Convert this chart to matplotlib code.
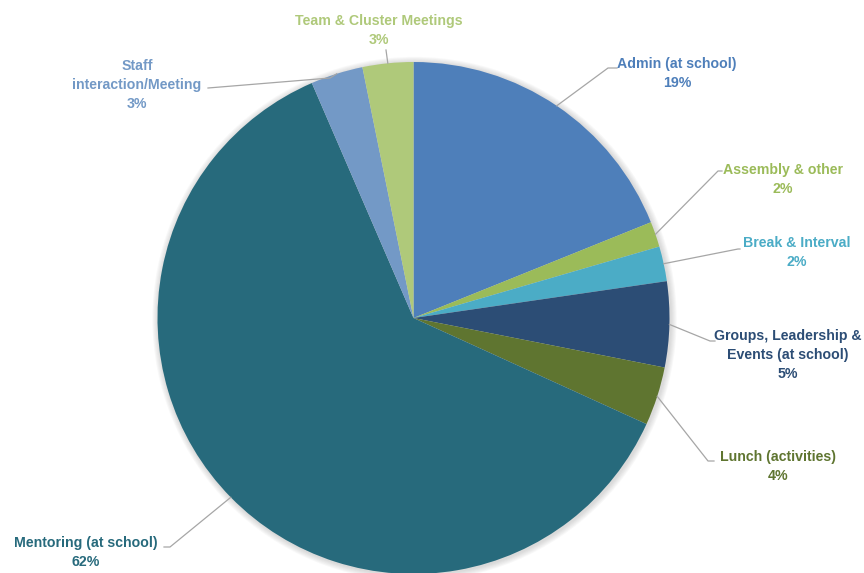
import matplotlib
matplotlib.use("Agg")
import matplotlib.pyplot as plt
import numpy as np
from matplotlib.patches import Circle

# Dane (w %)
categories = ["Admin (at school)", "Assembly & other", "Break & Interval",
              "Groups, Leadership &\nEvents (at school)", "Lunch (activities)",
              "Mentoring (at school)", "Staff\ninteraction/Meeting",
              "Team & Cluster Meetings"]
values = [18.9, 1.6, 2.2, 5.4, 3.7, 61.7, 3.3, 3.2]
colors = ["#4E7FBA", "#9BBB59", "#4BACC6", "#2C4D75", "#5F7530",
          "#276A7C", "#7399C6", "#AFC97A"]

# Uklad etykiet w pikselach: (x tekstu, y srodka pierwszej linii, punkt zalamania, koniec linii)
W, H = 864, 573
CX, CY, R = 413.5, 318.0, 256.0
label_layout = [
    (677, 64, (608, 68), (617, 68)),
    (783, 170, (718, 171), (722, 171)),
    (797, 243, (738, 249), (740, 249)),
    (788, 336, (710, 341), (715, 341)),
    (778, 457, (708, 461), (714, 461)),
    (86, 543, (170, 547), (164, 547)),
    (137, 66, (330, 78), (208, 88)),
    (379, 21, (386, 50), (386, 50)),
]


def px(x, y):
    return (x - CX) / R, (CY - y) / R


fig = plt.figure(figsize=(W / 100, H / 100), dpi=100)
ax = fig.add_axes([0, 0, 1, 1])
ax.axis("off")

# delikatny cien wokol kola
for i in range(6):
    ax.add_patch(Circle((0.004, -0.004), 1.0 + 0.004 * (i + 1), color="gray",
                        alpha=0.05, lw=0, zorder=0))

wedges, _ = ax.pie(values, colors=colors, startangle=90, counterclock=False,
                   radius=1.0, wedgeprops=dict(linewidth=0), frame=False)
ax.set_xlim(-CX / R, (W - CX) / R)
ax.set_ylim(-(H - CY) / R, CY / R)
ax.set_aspect("auto")

for w, cat, val, col, lay in zip(wedges, categories, values, colors, label_layout):
    tx, ty, elbow, end = lay
    ang = np.deg2rad((w.theta1 + w.theta2) / 2)
    p0 = (np.cos(ang), np.sin(ang))
    e = px(*elbow)
    q = px(*end)
    ax.plot([p0[0], e[0], q[0]], [p0[1], e[1], q[1]], color="#A6A6A6",
            lw=0.9, zorder=3)
    text = f"{cat}\n{round(val):.0f}%"
    x, y = px(tx, ty - 7)
    ax.text(x, y, text, color=col, ha="center", va="top", fontsize=10.2,
            fontweight="bold", family="Liberation Sans", linespacing=1.45)

fig.savefig("out.png", dpi=100)
